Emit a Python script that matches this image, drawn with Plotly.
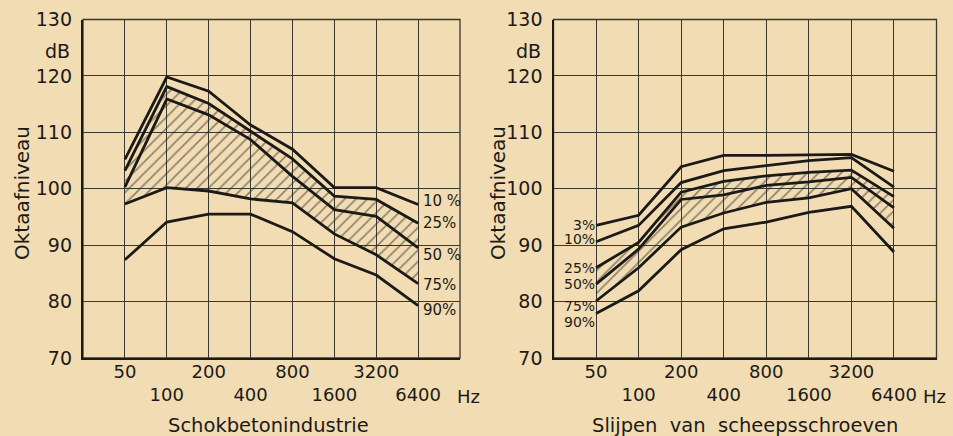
import math
import plotly.graph_objects as go

# ---------------- data ----------------
freqs = [50, 100, 200, 400, 800, 1600, 3200, 6400]
tick_text = ["50", "<br>100", "200", "<br>400", "800", "<br>1600", "3200", "<br>6400"]
y_ticks = [70, 80, 90, 100, 110, 120, 130]

# Left panel: Schokbetonindustrie
left_labels = ["10 %", "25%", "50 %", "75%", "90%"]
left_p10 = [105.2, 119.8, 117.3, 111.3, 107.0, 100.2, 100.2, 97.2]
left_p25 = [103.2, 118.1, 115.1, 110.2, 105.3, 98.7, 98.1, 93.9]
left_p50 = [100.3, 115.9, 113.1, 108.7, 102.2, 96.3, 95.1, 89.5]
left_p75 = [97.3, 100.2, 99.6, 98.2, 97.5, 92.0, 88.3, 83.2]
left_p90 = [87.4, 94.1, 95.5, 95.5, 92.4, 87.6, 84.7, 79.3]

# Right panel: Slijpen van scheepsschroeven
right_labels = ["3%", "10%", "25%", "50%", "75%", "90%"]
right_p3 = [93.5, 95.3, 103.9, 105.9, 105.9, 106.0, 106.1, 103.1]
right_p10 = [90.6, 93.5, 101.1, 103.2, 104.1, 105.0, 105.5, 100.3]
right_p25 = [86.0, 90.5, 99.4, 101.3, 102.3, 102.9, 103.3, 98.6]
right_p50 = [83.1, 89.3, 98.1, 98.9, 100.6, 101.2, 102.0, 96.6]
right_p75 = [80.1, 86.0, 93.2, 95.7, 97.6, 98.4, 100.0, 93.0]
right_p90 = [77.9, 81.9, 89.2, 92.9, 94.1, 95.8, 96.9, 88.8]

left_title = "Schokbetonindustrie"
right_title = "Slijpen  van  scheepsschroeven"
y_title = "Oktaafniveau"
unit_y = "dB"
unit_x = "Hz"

# ---------------- style ----------------
W, H = 953, 436
BG = "#f1dcb3"
INK = "#1c1a17"
GRID = "#3a3630"
FONT = "DejaVu Sans"

fig = go.Figure()

def px(x):
    return x / W

def py(y):
    return 1 - y / H

left_series = [left_p10, left_p25, left_p50, left_p75, left_p90]
right_series = [right_p3, right_p10, right_p25, right_p50, right_p75, right_p90]

def add_panel(series, p25, p75, xa, ya):
    # hatched interquartile band
    fig.add_trace(go.Scatter(x=freqs, y=p75, mode="lines", line=dict(width=0, color=BG),
                             xaxis=xa, yaxis=ya, showlegend=False, hoverinfo="skip"))
    fig.add_trace(go.Scatter(x=freqs, y=p25, mode="lines", line=dict(width=0, color=BG),
                             fill="tonexty", fillcolor="rgba(0,0,0,0)",
                             fillpattern=dict(shape="/", fgcolor="#2a2622", bgcolor="rgba(0,0,0,0)",
                                              size=8, solidity=0.2),
                             xaxis=xa, yaxis=ya, showlegend=False, hoverinfo="skip"))
    for s in series:
        fig.add_trace(go.Scatter(x=freqs, y=s, mode="lines",
                                 line=dict(color=INK, width=2.8),
                                 xaxis=xa, yaxis=ya, showlegend=False))

add_panel(left_series, left_p25, left_p75, "x", "y")
add_panel(right_series, right_p25, right_p75, "x2", "y2")

xdom1 = [px(83), px(460)]
xdom2 = [px(553.5), px(936.5)]
ydom = [py(358), py(19.5)]

xcommon = dict(type="log", range=[math.log10(25), math.log10(12800)],
               tickvals=freqs, ticktext=tick_text, showgrid=True, gridcolor=GRID,
               gridwidth=1.2, showline=True, linecolor=INK, linewidth=2.4,
               zeroline=False, ticks="", ticklabelstandoff=-4, tickangle=0,
               automargin=False,
               tickfont=dict(family=FONT, size=18, color=INK))
ycommon = dict(range=[70, 130], tickvals=y_ticks, showgrid=True, gridcolor=GRID,
               gridwidth=1.2, showline=True, linecolor=INK, linewidth=2.4,
               zeroline=False, ticks="", ticklabelstandoff=5, automargin=False,
               tickfont=dict(family=FONT, size=19, color=INK))

fig.update_layout(
    width=W, height=H, margin=dict(l=0, r=0, t=0, b=0, autoexpand=False),
    paper_bgcolor=BG, plot_bgcolor=BG,
    xaxis=dict(domain=xdom1, anchor="y", **xcommon),
    yaxis=dict(domain=ydom, anchor="x", **ycommon),
    xaxis2=dict(domain=xdom2, anchor="y2", **xcommon),
    yaxis2=dict(domain=ydom, anchor="x2", **ycommon),
    font=dict(family=FONT, color=INK),
)

# frames (top/right edges)
for xr, yr in [("x", "y"), ("x2", "y2")]:
    fig.add_shape(type="rect", xref=f"{xr} domain", yref=f"{yr} domain",
                  x0=0, x1=1, y0=0, y1=1, line=dict(color=GRID, width=1.3), layer="below")

ann = []
def text(x, y, t, size=17, xanchor="center", yanchor="middle", angle=0, xref="paper", yref="paper"):
    ann.append(dict(x=x, y=y, text=t, showarrow=False, xref=xref, yref=yref,
                    xanchor=xanchor, yanchor=yanchor, textangle=angle,
                    font=dict(family=FONT, size=size, color=INK)))

# titles
text(px(268), py(425), left_title, size=19.5)
text(px(745), py(425), right_title, size=19.5)
text(px(22), py(193), y_title, size=20, angle=-90)
text(px(498), py(193), y_title, size=20, angle=-90)
text(px(72), py(51), unit_y, size=19, xanchor="right")
text(px(543), py(51), unit_y, size=19, xanchor="right")
text(px(455), py(396), unit_x, size=18, xanchor="left")
text(px(921), py(396), unit_x, size=18, xanchor="left")

# series labels
left_off = [0.6, 0.1, -1.2, -0.2, -0.8]
for lab, s, off in zip(left_labels, left_series, left_off):
    ann.append(dict(x=math.log10(freqs[-1]), y=s[-1] + off, xref="x", yref="y", text=lab,
                    showarrow=False, xanchor="left", yanchor="middle", xshift=3,
                    font=dict(family=FONT, size=15, color=INK)))
right_off = [0.1, 0.5, 0.0, 0.1, -0.8, -1.5]
for lab, s, off in zip(right_labels, right_series, right_off):
    ann.append(dict(x=math.log10(freqs[0]), y=s[0] + off, xref="x2", yref="y2", text=lab,
                    showarrow=False, xanchor="right", yanchor="middle", xshift=1,
                    font=dict(family=FONT, size=14, color=INK)))

fig.update_layout(annotations=ann)
fig.write_html("out.html", config={"displayModeBar": False},
               post_script="document.body.style.margin='0';document.body.style.padding='0';"
                           "document.body.style.background='%s';" % BG)
